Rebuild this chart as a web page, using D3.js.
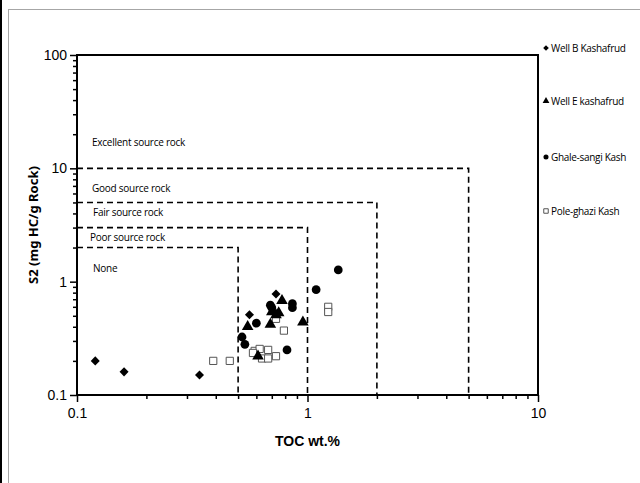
<!DOCTYPE html>
<html>
<head>
<meta charset="utf-8">
<script src="https://cdn.jsdelivr.net/npm/d3@7"></script>
<style>
  body { margin: 0; background: #fff; }
  svg { display: block; }
</style>
</head>
<body>
<div id="chart"></div>
<script>
// TOC (wt.%) and S2 (mg HC/g rock)
var wellB = [
    [0.12, 0.2], [0.16, 0.16], [0.34, 0.15], [0.56, 0.51], [0.73, 0.78]
];
var wellE = [
    [0.775, 0.68], [0.55, 0.40], [0.69, 0.42], [0.75, 0.53],
    [0.70, 0.54], [0.955, 0.44], [0.61, 0.22], [0.73, 0.51]
];
var ghale = [
    [1.36, 1.27], [1.09, 0.85], [0.86, 0.64], [0.86, 0.59], [0.70, 0.59],
    [0.69, 0.62], [0.60, 0.43], [0.52, 0.325], [0.535, 0.28], [0.815, 0.25]
];
var pole = [
    [0.79, 0.37], [0.73, 0.47], [0.59, 0.245], [0.62, 0.255], [0.675, 0.25],
    [0.635, 0.21], [0.675, 0.21], [0.73, 0.22], [0.58, 0.235],
    [0.39, 0.2], [0.46, 0.2], [1.23, 0.60], [1.23, 0.54]
];

// source rock zones: S2 limit and TOC limit
var zones = [
    { s2: 10, toc: 5 },
    { s2: 5, toc: 2 },
    { s2: 3, toc: 1 },
    { s2: 2, toc: 0.5 }
];
var zoneLabels = [
    { text: "Excellent source rock", s2: 16.8, dx: 92 },
    { text: "Good source rock", s2: 6.7, dx: 92 },
    { text: "Fair source rock", s2: 4.05, dx: 93 },
    { text: "Poor source rock", s2: 2.43, dx: 90 },
    { text: "None", s2: 1.32, dx: 93 }
];

var xTicks = [0.1, 1, 10];
var yTicks = [0.1, 1, 10, 100];

var W = 640, H = 483;
var m = { left: 77, right: 102, top: 55, bottom: 88 };

var svg = d3.select("#chart").append("svg")
    .attr("width", W)
    .attr("height", H);

// outer frame
svg.append("rect")
    .attr("x", 8.5).attr("y", 9.5)
    .attr("width", 640).attr("height", 480)
    .attr("fill", "none")
    .attr("stroke", "#a6a6a6");
svg.append("line")
    .attr("x1", 1).attr("x2", 1)
    .attr("y1", 0).attr("y2", H)
    .attr("stroke", "#000").attr("stroke-width", 2);

var x = d3.scaleLog().domain([0.1, 10]).range([m.left, W - m.right]);
var y = d3.scaleLog().domain([0.1, 100]).range([H - m.bottom, m.top]);

// minor ticks
var xMinor = [], yMinor = [];
[0.1, 1].forEach(function(d) {
    for (var i = 2; i <= 9; i++) xMinor.push(d * i);
});
[0.1, 1, 10].forEach(function(d) {
    for (var i = 2; i <= 9; i++) yMinor.push(d * i);
});

svg.append("g")
    .attr("transform", "translate(0," + y(0.1) + ")")
    .call(d3.axisBottom(x).tickValues(xMinor).tickSize(4).tickFormat(""))
    .call(g => g.select(".domain").remove());
svg.append("g")
    .attr("transform", "translate(" + x(0.1) + ",0)")
    .call(d3.axisLeft(y).tickValues(yMinor).tickSize(4).tickFormat(""))
    .call(g => g.select(".domain").remove());

var xAxis = svg.append("g")
    .attr("transform", "translate(0," + y(0.1) + ")")
    .call(d3.axisBottom(x).tickValues(xTicks).tickSize(7).tickPadding(6)
        .tickFormat(d3.format("")));
var yAxis = svg.append("g")
    .attr("transform", "translate(" + x(0.1) + ",0)")
    .call(d3.axisLeft(y).tickValues(yTicks).tickSize(7).tickPadding(3)
        .tickFormat(d3.format("")));

[xAxis, yAxis].forEach(function(g) {
    g.selectAll("text")
        .attr("font-family", "Liberation Sans, Arial, sans-serif")
        .attr("font-size", 14)
        .attr("fill", "#000");
    g.select(".domain").remove();
});
svg.selectAll(".tick line").attr("stroke", "#000").attr("stroke-width", 1.5);

// plot box
svg.append("rect")
    .attr("x", x(0.1)).attr("y", y(100))
    .attr("width", x(10) - x(0.1))
    .attr("height", y(0.1) - y(100))
    .attr("fill", "none")
    .attr("stroke", "#000")
    .attr("stroke-width", 2);

// zone boundaries
svg.selectAll(".zone")
    .data(zones)
    .enter().append("path")
    .attr("class", "zone")
    .attr("d", function(d) {
        return "M" + x(0.1) + "," + y(d.s2) + "H" + x(d.toc) + "V" + y(0.1);
    })
    .attr("fill", "none")
    .attr("stroke", "#000")
    .attr("stroke-width", 1.6)
    .attr("stroke-dasharray", "6,4");

svg.selectAll(".zone-label")
    .data(zoneLabels)
    .enter().append("text")
    .attr("class", "zone-label")
    .attr("x", function(d) { return d.dx; })
    .attr("y", function(d) { return y(d.s2); })
    .attr("dy", "0.35em")
    .attr("font-family", "Open Sans, sans-serif")
    .attr("font-size", 10)
    .attr("letter-spacing", -0.25)
    .attr("fill", "#000")
    .text(function(d) { return d.text; });

// symbols
var series = [
    { name: "Well B Kashafrud", data: wellB, type: d3.symbolDiamond2, size: 52, fill: "#000" },
    { name: "Well E kashafrud", data: wellE, type: d3.symbolTriangle, size: 58, fill: "#000" },
    { name: "Ghale-sangi Kash", data: ghale, type: d3.symbolCircle, size: 60, fill: "#000" },
    { name: "Pole-ghazi Kash", data: pole, type: d3.symbolSquare, size: 52, fill: "#fff" }
];

series.slice().reverse().forEach(function(s) {
    svg.append("g").selectAll("path")
        .data(s.data)
        .enter().append("path")
        .attr("transform", function(d) { return "translate(" + x(d[0]) + "," + y(d[1]) + ")"; })
        .attr("d", d3.symbol().type(s.type).size(s.size))
        .attr("fill", s.fill)
        .attr("stroke", s.fill == "#fff" ? "#555" : "none")
        .attr("stroke-width", 1);
});

// legend
var legendY = [48, 101, 157, 211];
var legend = svg.selectAll(".legend")
    .data(series)
    .enter().append("g")
    .attr("class", "legend")
    .attr("transform", function(d, i) { return "translate(546," + legendY[i] + ")"; });
legend.append("path")
    .attr("d", function(d) { return d3.symbol().type(d.type).size(20)(); })
    .attr("fill", function(d) { return d.fill; })
    .attr("stroke", function(d) { return d.fill == "#fff" ? "#555" : "none"; });
legend.append("text")
    .attr("x", 5)
    .attr("dy", "0.35em")
    .attr("font-family", "Open Sans, sans-serif")
    .attr("font-size", 10)
    .attr("letter-spacing", -0.3)
    .attr("fill", "#000")
    .text(function(d) { return d.name; });

// axis titles
svg.append("text")
    .attr("x", (x(0.1) + x(10)) / 2)
    .attr("y", 446)
    .attr("text-anchor", "middle")
    .attr("font-family", "Liberation Sans, Arial, sans-serif")
    .attr("font-weight", "bold")
    .attr("font-size", 14)
    .text("TOC wt.%");

svg.append("text")
    .attr("transform", "translate(38," + ((y(0.1) + y(100)) / 2) + ") rotate(-90)")
    .attr("text-anchor", "middle")
    .attr("font-family", "Noto Sans, sans-serif")
    .attr("font-weight", "bold")
    .attr("font-size", 13)
    .text("S2 (mg HC/g Rock)");
</script>
</body>
</html>
